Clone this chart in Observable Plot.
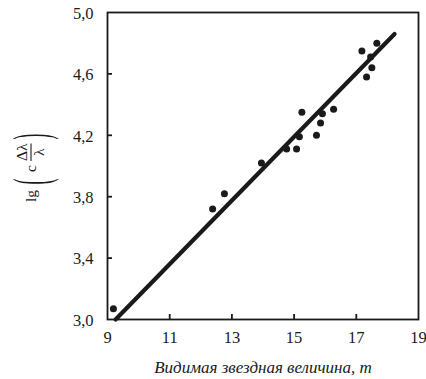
<!DOCTYPE html>
<html>
<head>
<meta charset="utf-8">
<script src="https://cdn.jsdelivr.net/npm/d3@7"></script>
<script src="https://cdn.jsdelivr.net/npm/@observablehq/plot@0.6"></script>
<style>
  html, body { margin: 0; padding: 0; background: #fff; }
  #chart { width: 426px; height: 379px; }
  #chart svg, #chart svg text { font-family: "Liberation Serif", "DejaVu Serif", serif !important; }
</style>
</head>
<body>
<div id="chart"></div>
<script>
// Observed points: apparent magnitude m and lg(c·Δλ/λ)
const magnitude = [9.19, 12.38, 12.76, 13.95, 14.76, 15.08, 15.17, 15.72, 15.25, 15.85, 15.91, 16.27, 17.18, 17.33, 17.46, 17.50, 17.66];
const lgValue   = [3.07, 3.72, 3.82, 4.02, 4.11, 4.11, 4.19, 4.20, 4.35, 4.28, 4.34, 4.37, 4.75, 4.58, 4.71, 4.64, 4.80];

// Fitted line end points
const fitMagnitude = [9.26, 18.23];
const fitLg        = [3.00, 4.86];

// Axis ticks
const xTicks = [9, 11, 13, 15, 17, 19];
const yTicks = [3.0, 3.4, 3.8, 4.2, 4.6, 5.0];

const xTitle = "Видимая звездная величина, m";

const points = magnitude.map((m, i) => ({m, v: lgValue[i]}));
const fit = fitMagnitude.map((m, i) => ({m, v: fitLg[i]}));

const serif = "Liberation Serif";
const ink = "#1a1a1a";
const fmt = d => d.toFixed(1).replace(".", ",");

const chart = Plot.plot({
  width: 426,
  height: 379,
  marginLeft: 107,
  marginRight: 8,
  marginTop: 12,
  marginBottom: 60,
  style: {color: ink, background: "#fff", fontFamily: serif},
  x: {domain: [9, 19], axis: null},
  y: {domain: [3, 5], axis: null},
  marks: [
    Plot.frame({stroke: ink, strokeWidth: 1.8}),
    // inward tick marks
    Plot.axisX({anchor: "bottom", ticks: xTicks.slice(1, -1), tickSize: 5, dy: -5, tickFormat: () => "", label: null, stroke: ink, strokeWidth: 1.8}),
    Plot.axisY({anchor: "left", ticks: yTicks.slice(1, -1), tickSize: 5, dx: 5, tickFormat: () => "", label: null, stroke: ink, strokeWidth: 1.8}),
    // tick labels
    Plot.text(xTicks, {x: d => d, frameAnchor: "bottom", lineAnchor: "top", dy: 12, text: d => String(d), fontSize: 16.5, fontFamily: serif, fill: ink}),
    Plot.text(yTicks, {y: d => d, frameAnchor: "left", textAnchor: "end", lineAnchor: "middle", dx: -14, dy: 1, text: fmt, fontSize: 16.5, fontFamily: serif, fill: ink}),
    Plot.line(fit, {x: "m", y: "v", stroke: ink, strokeWidth: 4.2}),
    Plot.dot(points, {x: "m", y: "v", r: 3.5, fill: ink, stroke: "none"}),
    Plot.text([xTitle], {frameAnchor: "bottom", dy: 53, lineAnchor: "bottom", text: d => d, fontSize: 17, fontStyle: "italic", fontFamily: serif, fill: ink})
  ]
});

document.getElementById("chart").appendChild(chart);

// Y axis title: lg( c Δλ/λ ), rotated
const svg = d3.select(chart);
const g = svg.append("g")
  .attr("transform", "translate(35,163) rotate(-90)")
  .attr("fill", ink)
  .attr("font-family", serif)
  .attr("font-size", 15.5);

g.append("text").attr("x", -33).attr("y", 1).text("lg");
g.append("text").attr("transform", "translate(-18.5,12.5) scale(0.35,1)").attr("font-size", 50).text("(");
g.append("text").attr("x", -5.5).attr("y", 1).text("c");
g.append("line").attr("x1", 2).attr("x2", 19.5).attr("y1", -4).attr("y2", -4).attr("stroke", ink).attr("stroke-width", 1.1);
g.append("text").attr("x", 10.8).attr("y", -8).attr("text-anchor", "middle").text("Δλ");
g.append("text").attr("x", 10.8).attr("y", 8.5).attr("text-anchor", "middle").text("λ");
g.append("text").attr("transform", "translate(26.5,12.5) scale(0.35,1)").attr("font-size", 50).text(")");
</script>
</body>
</html>
